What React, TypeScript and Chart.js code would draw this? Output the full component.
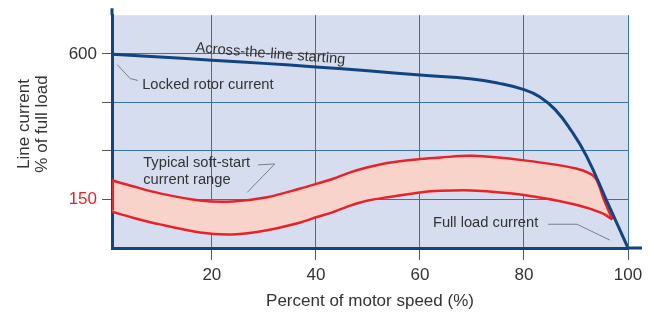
import React, { useEffect, useRef } from 'react';
import { Chart, registerables } from 'chart.js';

Chart.register(...registerables);

// ---- data ----
const speedAcross = [0, 10, 20, 30, 40, 50, 60, 70, 75, 80, 83, 86, 89, 92, 96, 100];
const currentAcross = [600, 591, 581, 571, 560, 548, 535, 523, 510, 490, 468, 428, 365, 285, 143, 0];

const speedSoftUpper = [0, 5, 10, 17.7, 24, 30.6, 37, 40.2, 43.3, 46.6, 49.8, 53.7, 60, 64, 70, 80, 90, 93.6, 95.3, 97.0];
const currentSoftUpper = [213, 190, 169, 147, 144, 157, 184, 199, 214, 234, 249, 263, 275, 280, 285, 271, 246, 219, 152, 88];

const speedSoftLower = [0, 5, 10, 17.7, 24, 30.6, 37, 40.2, 43.3, 46.6, 49.8, 53.7, 60, 64, 70, 80, 90, 95, 97.0];
const currentSoftLower = [116, 93, 73, 48, 42, 55, 79, 96, 111, 131, 146, 157, 172, 177, 178, 164, 134, 108, 88];

const speedSoftEdge = [1, 1];
const currentSoftEdge = [213, 116];

const xTicks = [20, 40, 60, 80, 100];
const yTicks = [0, 150, 300, 450, 600];
const yTickLabels: Record<number, string> = { 600: '600', 150: '150' };

const xTitle = 'Percent of motor speed (%)';
const yTitleLines = ['Line current', '% of full load'];

// annotation anchors in data units
const acrossLabel = { text: 'Across-the-line starting', x: 16.8, y: 606 };
const lockedLabel = { text: 'Locked rotor current', x: 6.6, y: 493 };
const softLabel1 = { text: 'Typical soft-start', x: 6.8, y: 251 };
const softLabel2 = { text: 'current range', x: 6.8, y: 199 };
const fullLoadLabel = { text: 'Full load current', x: 62.5, y: 64 };

const lockedLeaderX = [1.8, 4.3, 5.8];
const lockedLeaderY = [567, 524, 518];
const softLeaderX = [28.9, 32.1, 26.8];
const softLeaderY = [257, 260, 172];
const fullLeaderX = [84.6, 90.2, 96.5];
const fullLeaderY = [73.5, 73.5, 24.5];

const toPts = (xs: number[], ys: number[]) => xs.map((x, i) => ({ x, y: ys[i] }));

export default function App() {
  const ref = useRef<HTMLCanvasElement>(null);

  useEffect(() => {
    const canvas = ref.current;
    if (!canvas) return;
    const navy = '#12457f';
    const gridCol = '#3b73a8';
    const red = '#e8222b';
    const textCol = '#333333';
    const family = '"Liberation Sans", Arial, Helvetica, sans-serif';
    Chart.defaults.font.family = family;

    const decor = {
      id: 'decor',
      beforeDraw(chart: any) {
        const { ctx, chartArea: a } = chart;
        ctx.save();
        ctx.fillStyle = '#d6ddef';
        ctx.fillRect(a.left, a.top, a.right - a.left, a.bottom - a.top);
        ctx.restore();
      },
      afterDatasetsDraw(chart: any) {
        const { ctx } = chart;
        const px = (v: number) => chart.scales.x.getPixelForValue(v);
        const py = (v: number) => chart.scales.y.getPixelForValue(v);
        ctx.save();
        // leader lines
        ctx.strokeStyle = '#7a7f88';
        ctx.lineWidth = 1;
        const leader = (xs: number[], ys: number[]) => {
          ctx.beginPath();
          xs.forEach((x, i) => {
            if (i === 0) ctx.moveTo(px(x), py(ys[i]));
            else ctx.lineTo(px(x), py(ys[i]));
          });
          ctx.stroke();
        };
        leader(lockedLeaderX, lockedLeaderY);
        leader(softLeaderX, softLeaderY);
        leader(fullLeaderX, fullLeaderY);

        ctx.fillStyle = textCol;
        ctx.font = `14.7px ${family}`;
        ctx.textAlign = 'left';
        ctx.textBaseline = 'alphabetic';
        for (const l of [lockedLabel, softLabel1, softLabel2, fullLoadLabel]) {
          ctx.fillText(l.text, px(l.x), py(l.y));
        }
        ctx.save();
        ctx.translate(px(acrossLabel.x), py(acrossLabel.y));
        ctx.rotate((4.5 * Math.PI) / 180);
        ctx.fillText(acrossLabel.text, 0, 0);
        ctx.restore();
        ctx.restore();
      },
      afterDraw(chart: any) {
        const { ctx, chartArea: a } = chart;
        ctx.save();
        // axis line extensions
        ctx.strokeStyle = navy;
        ctx.lineWidth = 3;
        ctx.beginPath();
        ctx.moveTo(a.left, a.top);
        ctx.lineTo(a.left, a.top - 7);
        ctx.moveTo(a.right, a.bottom);
        ctx.lineTo(a.right + 14, a.bottom);
        ctx.stroke();
        // y title
        ctx.fillStyle = textCol;
        ctx.font = `17px ${family}`;
        ctx.textAlign = 'center';
        ctx.textBaseline = 'middle';
        const cy = 124;
        const xs = [24, 42];
        yTitleLines.forEach((t, i) => {
          ctx.save();
          ctx.translate(xs[i], cy);
          ctx.rotate(-Math.PI / 2);
          ctx.fillText(t, 0, 0);
          ctx.restore();
        });
        ctx.restore();
      },
    };

    const chart = new Chart(canvas, {
      type: 'line',
      data: {
        datasets: [
          {
            data: toPts(speedAcross, currentAcross),
            borderColor: navy,
            borderWidth: 3,
            pointRadius: 0,
            tension: 0.45,
            fill: false,
            clip: 0,
          },
          {
            data: toPts(speedSoftUpper, currentSoftUpper),
            borderColor: red,
            borderWidth: 2.5,
            pointRadius: 0,
            tension: 0.3,
            fill: false,
            clip: 0,
          },
          {
            data: toPts(speedSoftLower, currentSoftLower),
            borderColor: red,
            borderWidth: 2.5,
            pointRadius: 0,
            tension: 0.3,
            fill: { target: '-1' },
            backgroundColor: '#f8d3c9',
            clip: 0,
          },
          {
            data: toPts(speedSoftEdge, currentSoftEdge),
            borderColor: red,
            borderWidth: 2,
            pointRadius: 0,
            tension: 0,
            fill: false,
            clip: 0,
          },
        ],
      } as any,
      options: {
        animation: false,
        responsive: false,
        events: [],
        layout: { padding: { top: 13, right: 26, left: 0, bottom: 0 } },
        plugins: {
          legend: { display: false },
          tooltip: { enabled: false },
          filler: { drawTime: 'beforeDatasetsDraw' },
        },
        scales: {
          x: {
            type: 'linear',
            min: 0.8,
            max: 100,
            afterBuildTicks: (s: any) => {
              s.ticks = xTicks.map((v) => ({ value: v }));
            },
            afterFit: (s: any) => {
              s.height = 68;
            },
            border: { display: true, color: navy, width: 3 },
            grid: { color: gridCol, lineWidth: 1, tickLength: 12, tickColor: '#555555' },
            ticks: {
              color: textCol,
              font: { size: 17 },
              padding: 5,
              maxRotation: 0,
              autoSkip: false,
              callback: (v: any) => String(v),
            },
            title: {
              display: true,
              text: xTitle,
              color: textCol,
              font: { size: 17 },
              padding: { top: 0, bottom: 4 },
            },
          },
          y: {
            type: 'linear',
            min: 0,
            max: 720,
            afterBuildTicks: (s: any) => {
              s.ticks = yTicks.map((v) => ({ value: v }));
            },
            afterFit: (s: any) => {
              s.width = 112;
            },
            border: { display: true, color: navy, width: 3 },
            grid: {
              color: (c: any) => (c.tick && c.tick.value === 0 ? 'rgba(0,0,0,0)' : gridCol),
              lineWidth: 1,
              tickLength: 10,
              tickColor: (c: any) => (c.tick && c.tick.value === 0 ? 'rgba(0,0,0,0)' : '#555555'),
            },
            ticks: {
              color: (c: any) => (c.tick && c.tick.value === 150 ? red : textCol),
              font: { size: 17 },
              padding: 5,
              autoSkip: false,
              callback: (v: any) => yTickLabels[v] ?? '',
            },
          },
        },
      } as any,
      plugins: [decor],
    });
    return () => chart.destroy();
  }, []);

  return (
    <canvas
      ref={ref}
      width={654}
      height={316}
      style={{ position: 'absolute', left: 0, top: 0, display: 'block' }}
    />
  );
}
